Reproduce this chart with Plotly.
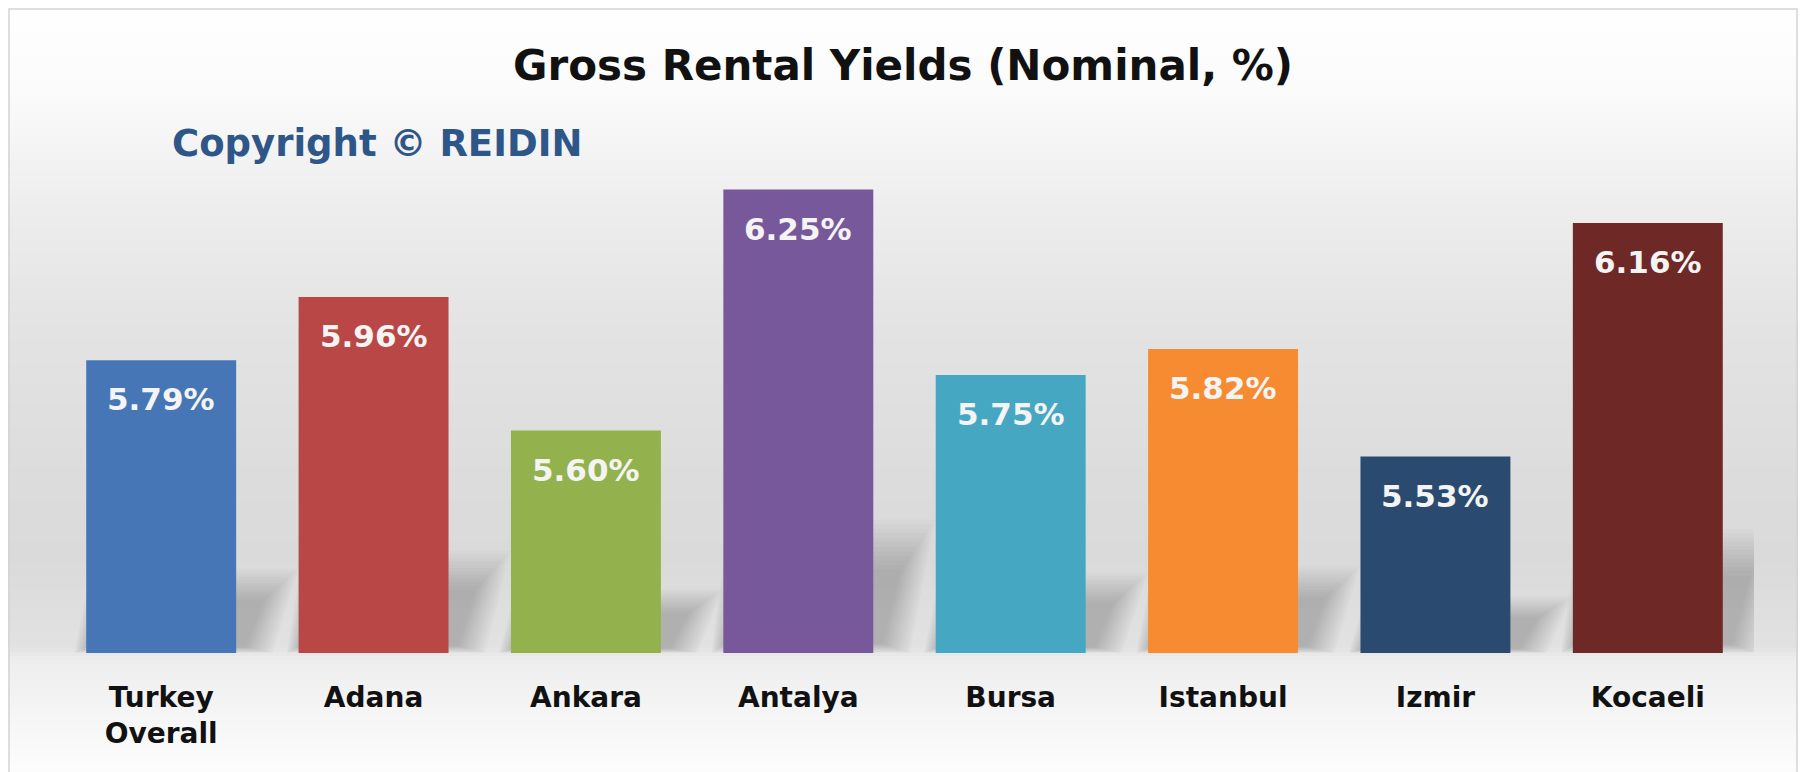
import plotly.graph_objects as go

# ---------------- data ----------------
categories = ["Turkey<br>Overall", "Adana", "Ankara", "Antalya", "Bursa", "Istanbul", "Izmir", "Kocaeli"]
yields_pct = [5.79, 5.96, 5.60, 6.25, 5.75, 5.82, 5.53, 6.16]
value_labels = ["5.79%", "5.96%", "5.60%", "6.25%", "5.75%", "5.82%", "5.53%", "6.16%"]
bar_colors = ["#4676B6", "#B94745", "#93B24E", "#77599B", "#45A7C2", "#F68B32", "#2B4A70", "#6E2826"]

title_text = "Gross Rental Yields (Nominal, %)"
copyright_text = "Copyright © REIDIN"

# ---------------- layout geometry ----------------
# target positions are given in page pixels; the figure sits 8px in from the page corner
W, H = 1806, 772
OFF = 8
PL_S, PR_S = 55, 1754     # plot area left/right (page px)
PT_S, PB_S = 134, 653     # plot area top/bottom (page px)
PL, PR = PL_S - OFF, PR_S - OFF
PT, PB = PT_S - OFF, PB_S - OFF
Y_MIN, Y_MAX = 5.0, 6.4

def px_x(px):
    return (px - OFF - PL) / (PR - PL)

def px_y(py):
    return (PB - (py - OFF)) / (PB - PT)

def lerp_col(c1, c2, t):
    a = [int(c1[i:i + 2], 16) for i in (1, 3, 5)]
    b = [int(c2[i:i + 2], 16) for i in (1, 3, 5)]
    return "#" + "".join(f"{round(a[k] + (b[k] - a[k]) * t):02x}" for k in range(3))

# background vertical gradient stops (page y, colour)
bg_stops = [(0, "#FFFFFF"), (90, "#FBFBFB"), (200, "#EEEEEE"), (330, "#E3E3E3"),
            (480, "#DCDCDC"), (560, "#DADADA"), (648, "#E2E2E2"), (660, "#EEEEEE"),
            (790, "#FFFFFF")]

shapes = []
step = 4
for y0 in range(0, H + 16, step):
    yc = y0 + step / 2
    col = bg_stops[-1][1]
    for (sa, ca), (sb, cb) in zip(bg_stops[:-1], bg_stops[1:]):
        if sa <= yc <= sb:
            col = lerp_col(ca, cb, (yc - sa) / (sb - sa))
            break
    shapes.append(dict(type="rect", xref="paper", yref="paper", layer="below",
                       x0=px_x(-5), x1=px_x(W + 20), y0=px_y(y0 + step + 0.5), y1=px_y(y0),
                       fillcolor=col, line=dict(width=0)))

# soft cast shadow behind each bar (derived from the bar positions / values)
half = 0.353
layers = 12
for i, v in enumerate(yields_pct):
    h = v - Y_MIN
    for k in range(layers):
        g = k / (layers - 1)            # 0 = core, 1 = outer blur
        spread = 0.03 + 0.16 * g
        top = Y_MIN + 0.24 * h * (0.75 + 0.45 * g)
        bot = Y_MIN + 0.02 * h * (1 - g)
        path = (f"M {i - half + 0.02 - spread * 0.4},{bot} "
                f"L {i + half + 0.02 + spread * 0.8},{bot} "
                f"L {i + half + 0.10 + spread},{top} "
                f"L {i - half + 0.10 - spread * 0.4},{top} Z")
        shapes.append(dict(type="path", xref="x", yref="y", layer="below", path=path,
                           fillcolor="#3A3A3A", opacity=0.028, line=dict(width=0)))

# outer border
shapes.append(dict(type="rect", xref="paper", yref="paper", layer="above",
                   x0=px_x(9), x1=px_x(1797), y0=px_y(800), y1=px_y(9),
                   fillcolor="rgba(0,0,0,0)", line=dict(color="#D4D4D4", width=1.5)))

fig = go.Figure()
fig.add_trace(go.Bar(
    x=categories, y=yields_pct,
    marker=dict(color=bar_colors, line=dict(width=0)),
    hoverinfo="x+y", showlegend=False,
))

annotations = []
for c, v, t in zip(categories, yields_pct, value_labels):
    annotations.append(dict(x=c, y=v, xref="x", yref="y", text=t, showarrow=False,
                            yanchor="top", yshift=-19,
                            font=dict(family="DejaVu Sans", size=31, color="#F4F4F4",
                                      weight="bold")))

annotations.append(dict(text=copyright_text, xref="paper", yref="paper",
                        x=px_x(170), y=px_y(144), xanchor="left", yanchor="middle",
                        showarrow=False,
                        font=dict(family="DejaVu Sans", size=37, color="#2F5688", weight="bold")))

fig.update_layout(
    width=W, height=H,
    margin=dict(l=PL, r=W - PR, t=PT, b=H - PB, pad=0, autoexpand=False),
    paper_bgcolor="#FFFFFF", plot_bgcolor="rgba(0,0,0,0)",
    title=dict(text=title_text, x=(903 - OFF) / W, xanchor="center", xref="container",
               y=1 - (65 - OFF) / H, yref="container", yanchor="middle", automargin=False,
               font=dict(family="DejaVu Sans", size=42, color="#111111", weight="bold")),
    bargap=0.294,
    shapes=shapes,
    annotations=annotations,
    xaxis=dict(range=[-0.5, len(categories) - 0.5], showgrid=False, showline=False,
               zeroline=False, ticks="", automargin=False,
               tickfont=dict(family="DejaVu Sans", size=28, color="#111111", weight="bold"),
               ticklabelstandoff=25),
    yaxis=dict(range=[Y_MIN, Y_MAX], visible=False, showgrid=False, zeroline=False,
               automargin=False),
)

fig.write_html("out.html")
